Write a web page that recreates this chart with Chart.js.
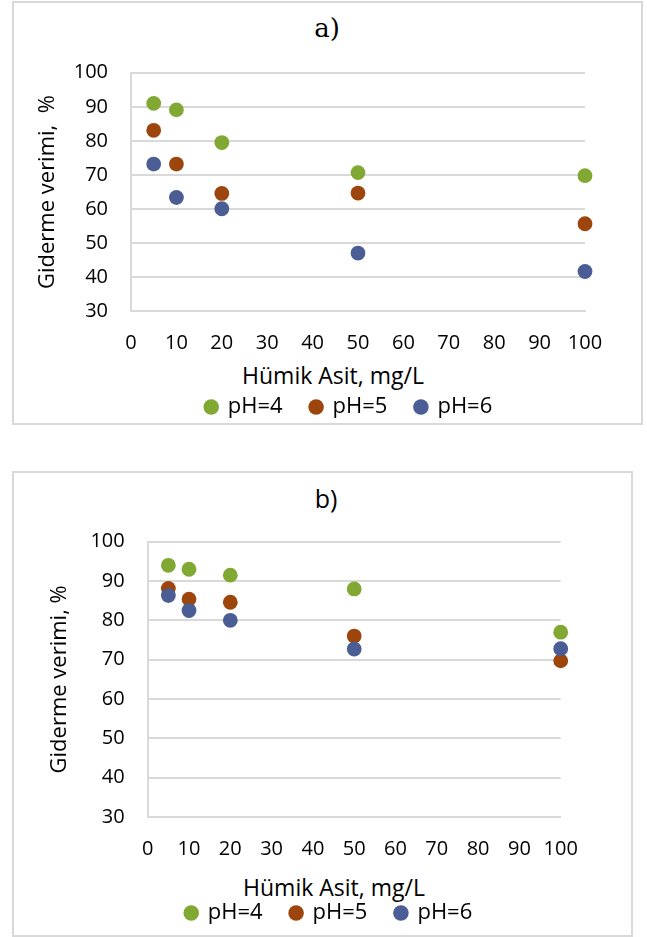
<!DOCTYPE html>
<html>
<head>
<meta charset="utf-8">
<script src="https://cdn.jsdelivr.net/npm/chart.js@4.4.1/dist/chart.umd.min.js"></script>
<style>
html, body { margin:0; background:#fff; width:647px; height:937px; overflow:hidden; }
.kutu { position:absolute; border:2px solid #d9d9d9; box-sizing:border-box; }
canvas { position:absolute; }
.yazi { position:absolute; transform:translate(-50%,-50%); white-space:nowrap; color:#000; line-height:1; font-family:'Open Sans', sans-serif; }
</style>
</head>
<body>

<div class="kutu" style="left:12px; top:1px; width:631px; height:424px;"></div>
<div class="kutu" style="left:12px; top:471px; width:621px; height:466px;"></div>

<div class="yazi" style="left:327px; top:28px; font-family:'DejaVu Serif', serif; font-size:26px;">a)</div>
<div class="yazi" style="left:326px; top:498px; font-size:25px;">b)</div>
<div class="yazi" style="left:333px; top:375px; font-size:23px;">Hümik Asit, mg/L</div>
<div class="yazi" style="left:334px; top:887px; font-size:23px;">Hümik Asit, mg/L</div>

<canvas id="grafikA" width="638" height="426" style="left:30px; top:2px;"></canvas>
<canvas id="grafikB" width="608" height="462" style="left:25px; top:472px;"></canvas>

<script>
// Hümik asit derişimi (mg/L)
const humik = [5, 10, 20, 50, 100]
const label = ['pH=4', 'pH=5', 'pH=6']
const warna = ['#80a832', '#9c460e', '#4a5d94']

// a) giderme verimi, %
const a_pH4 = [91.0, 89.1, 79.5, 70.7, 69.8]
const a_pH5 = [83.1, 73.2, 64.6, 64.7, 55.7]
const a_pH6 = [73.2, 63.4, 60.1, 47.1, 41.7]

// b) giderme verimi, %
const b_pH4 = [94.0, 93.0, 91.5, 88.0, 77.0]
const b_pH5 = [88.1, 85.4, 84.6, 76.0, 69.7]
const b_pH6 = [86.3, 82.5, 80.0, 72.7, 72.8]

const xTicks = { min: 0, max: 100, step: 10 }
const yTicks = { min: 30, max: 100, step: 10 }

const huruf = "'Open Sans', sans-serif"

const buatChart = (kanvas, seri, o) => new Chart(kanvas, {
	type: 'scatter',
	data: {
		datasets: seri.map((s, i) => ({
			label: label[i],
			data: humik.map((x, j) => ({ x: x, y: s[j] })),
			backgroundColor: warna[i],
			borderColor: warna[i],
			borderWidth: 0,
			pointRadius: 7.4,
			pointHoverRadius: 7.4,
			clip: false,
			order: seri.length - i,
		}))
	},
	options: {
		responsive: false,
		animation: false,
		events: [],
		layout: { padding: { top: o.atas, left: 0, right: 0, bottom: 0 } },
		plugins: {
			tooltip: { enabled: false },
			legend: {
				position: 'bottom',
				labels: {
					usePointStyle: true,
					pointStyle: 'circle',
					boxWidth: 11,
					boxHeight: 11,
					padding: 28,
					color: '#000',
					font: { family: huruf, size: 22 },
					sort: (a, b) => a.datasetIndex - b.datasetIndex,
				}
			}
		},
		scales: {
			x: {
				type: 'linear',
				min: xTicks.min,
				max: xTicks.max,
				ticks: { stepSize: xTicks.step, padding: o.xPad, color: '#000', font: { family: huruf, size: 20 } },
				grid: { display: false, drawTicks: false },
				border: { display: true, color: '#d9d9d9', width: 2 },
				afterFit: s => { s.height = o.xTinggi },
			},
			y: {
				type: 'linear',
				min: yTicks.min,
				max: yTicks.max,
				ticks: { stepSize: yTicks.step, padding: 23, color: '#000', font: { family: huruf, size: 20 } },
				grid: { color: '#d9d9d9', lineWidth: 2, drawTicks: false },
				border: { display: true, color: '#d9d9d9', width: 2 },
				title: { display: true, text: o.judulY, color: '#000', font: { family: huruf, size: 22 }, padding: { top: o.yJudulPad, bottom: 0 } },
				afterFit: s => { s.width = o.yLebar },
			},
			// ruang kosong kanan supaya legenda tetap di tengah
			kanan: {
				type: 'linear',
				position: 'right',
				ticks: { display: false },
				grid: { display: false, drawTicks: false },
				border: { display: false },
				afterFit: s => { s.width = o.kanan },
			}
		}
	}
})

buatChart(document.getElementById('grafikA'), [a_pH4, a_pH5, a_pH6], {
	atas: 70.7, kanan: 83, yLebar: 101, yJudulPad: 4.8, xTinggi: 56.6, xPad: 19.6,
	judulY: 'Giderme verimi,  %',
})

buatChart(document.getElementById('grafikB'), [b_pH4, b_pH5, b_pH6], {
	atas: 69.7, kanan: 72.3, yLebar: 122.7, yJudulPad: 21.8, xTinggi: 57, xPad: 20,
	judulY: 'Giderme verimi, %',
})
</script>
</body>
</html>
